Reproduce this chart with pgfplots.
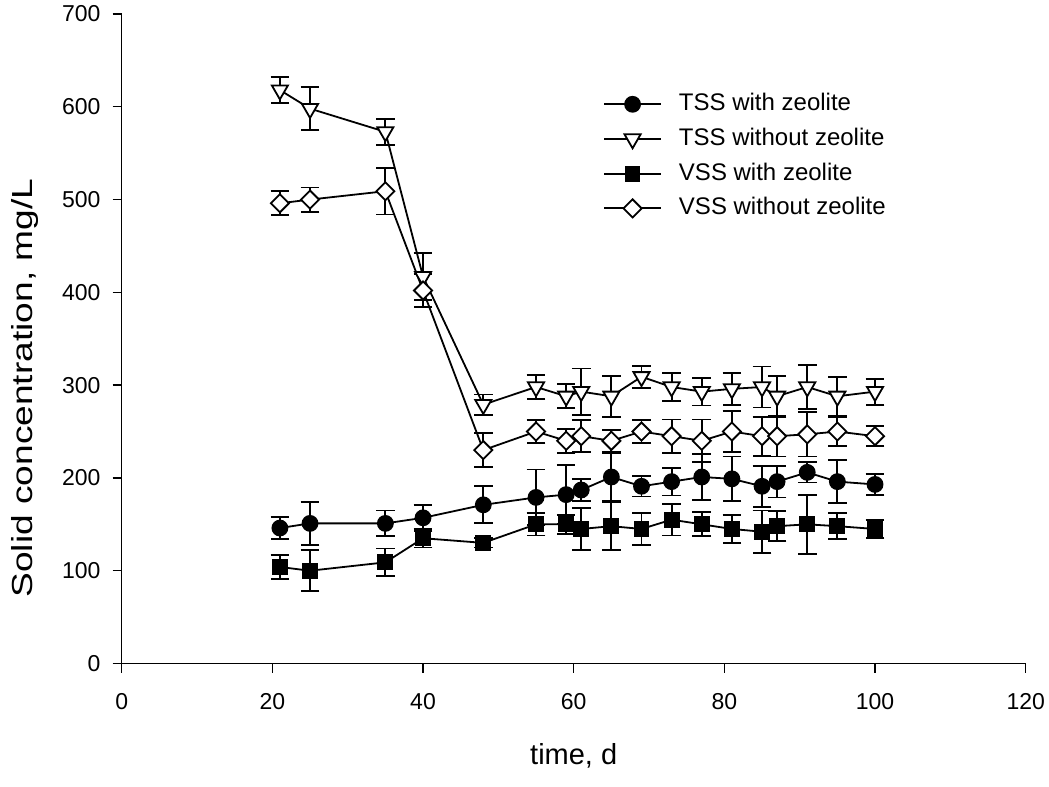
\documentclass[border=0pt]{standalone}
\usepackage{pgfplots}
\pgfplotsset{compat=1.18}
\usepackage{pgfplotstable}
\usepackage{fontspec}
\setmainfont{Liberation Sans}

\pgfplotstableread{
x y e
21 146 12
25 151 23
35 151 14
40 157 14
48 171 20
55 179 30
59 182 32
61 187 12
65 201 26
69 191 11
73 196 15
77 201 25
81 199 24
85 191 22
87 196 17
91 206 11
95 196 23
100 193 11
}\tsswith

\pgfplotstableread{
x y e
21 618 14
25 598 23
35 573 14
40 417 25
48 279 11
55 298 13
59 288 13
61 293 25
65 288 22
69 309 12
73 298 15
77 293 15
81 296 17
85 298 22
87 288 22
91 298 24
95 288 21
100 293 14
}\tsswithout

\pgfplotstableread{
x y e
21 104 13
25 100 22
35 109 15
40 135 10
48 130 5
55 150 12
59 150 10
61 145 23
65 148 26
69 145 17
73 155 17
77 150 13
81 145 15
85 142 23
87 148 16
91 150 32
95 148 14
100 145 10
}\vsswith

\pgfplotstableread{
x y e
21 496 13
25 500 13
35 509 25
40 402 18
48 230 18
55 250 12
59 240 13
61 245 17
65 240 12
69 250 12
73 245 18
77 240 23
81 250 22
85 245 21
87 245 22
91 247 24
95 250 16
100 245 11
}\vsswithout

\begin{document}
\begin{tikzpicture}
\path[use as bounding box] (-121.7bp,-123.5bp) rectangle (927.3bp,663.5bp);
\begin{axis}[
  scale only axis,
  width=904bp, height=649.5bp,
  at={(0,0)}, anchor=south west,
  xmin=0, xmax=120, ymin=0, ymax=700,
  xtick={0,20,...,120}, ytick={0,100,...,700},
  axis lines=left,
  axis line style={-, line width=1.4bp},
  tick align=outside,
  major tick length=9bp,
  every tick/.style={black, line width=1.4bp},
  tick label style={font=\fontsize{23bp}{27bp}\selectfont},
  /pgf/number format/assume math mode=true,
  xticklabel style={anchor=north, inner sep=0pt, yshift=-20.5bp},
  yticklabel style={anchor=east, inner sep=0pt, xshift=-12bp},
  xlabel={time, d},
  ylabel={Solid concentration, mg/L},
  label style={font=\fontsize{29bp}{34bp}\selectfont},
  xlabel style={at={(rel axis cs:0.5,0)}, anchor=center, yshift=-92bp},
  ylabel style={at={(rel axis cs:-0.1073,0.424)}, anchor=center, xscale=1.28},
  clip=false,
  every axis plot/.append style={black, line width=1.8bp},
  error bars/error bar style={line width=1.8bp},
  error bars/error mark options={rotate=90, mark size=9.3bp, line width=1.8bp},
  legend style={draw=none, fill=none, at={(rel axis cs:0.5324,0.879)}, anchor=north west,
    inner sep=0pt, row sep=11.7bp, column sep=17bp,
    nodes={inner sep=0pt, text height=18bp, text depth=5bp},
    font=\fontsize{24bp}{28bp}\selectfont},
  legend cell align=left,
  legend image code/.code={\draw[mark repeat=2,mark phase=2,#1,line width=1.8bp] plot coordinates {(0bp,0bp) (28.5bp,0bp) (57bp,0bp)};},
]
\addplot[mark=*, mark size=7.5bp, mark options={fill=black},
  error bars/.cd, y dir=both, y explicit] table[x=x, y=y, y error=e] {\tsswith};
\addlegendentry{TSS with zeolite}
\addplot[mark=triangle*, mark size=9.3bp, mark options={rotate=180, fill=white},
  error bars/.cd, y dir=both, y explicit] table[x=x, y=y, y error=e] {\tsswithout};
\addlegendentry{TSS without zeolite}
\addplot[mark=square*, mark size=7bp, mark options={fill=black},
  error bars/.cd, y dir=both, y explicit] table[x=x, y=y, y error=e] {\vsswith};
\addlegendentry{VSS with zeolite}
\addplot[mark=square*, mark size=6.4bp, mark options={rotate=45, fill=white},
  error bars/.cd, y dir=both, y explicit] table[x=x, y=y, y error=e] {\vsswithout};
\addlegendentry{VSS without zeolite}
\end{axis}
\end{tikzpicture}
\end{document}
